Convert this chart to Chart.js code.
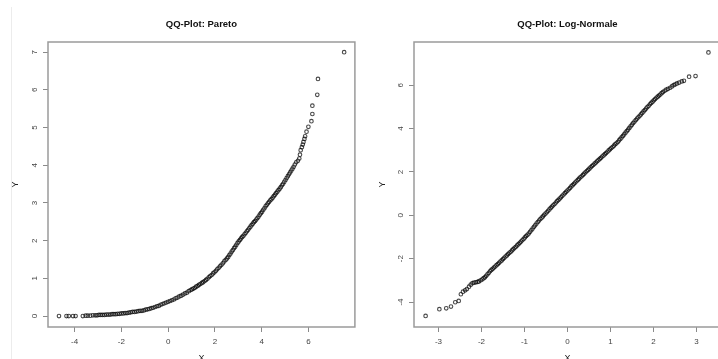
<!DOCTYPE html>
<html>
<head>
<meta charset="utf-8">
<script src="https://cdn.jsdelivr.net/npm/chart.js@4/dist/chart.umd.min.js"></script>
<style>
  body { margin: 0; background: #fff; }
  #page { position: relative; width: 718px; height: 359px; overflow: hidden; background: #fff; }
  .pane { position: absolute; top: 0; }
  #edge { position: absolute; left: 11px; top: 7px; width: 1px; height: 352px; background: #ececec; }
</style>
</head>
<body>
<div id="page">
  <div id="edge"></div>
  <canvas id="qq-pareto" class="pane" style="left:0" width="360" height="366"></canvas>
  <canvas id="qq-lnorm" class="pane" style="left:360px" width="366" height="366"></canvas>
</div>
<script>
// theoretical quantiles (x) vs sample quantiles (y)
const paretoX = [
  -4.67,-4.35,-4.25,-4.07,-3.96,-3.65,-3.53,-3.44,-3.33,-3.22,
  -3.12,-3.04,-2.96,-2.88,-2.80,-2.72,-2.64,-2.56,-2.48,-2.40,
  -2.32,-2.24,-2.16,-2.08,-2.00,-1.92,-1.84,-1.76,-1.68,-1.60,
  -1.52,-1.44,-1.36,-1.28,-1.20,-1.12,-1.04,-0.96,-0.88,-0.80,
  -0.72,-0.64,-0.56,-0.48,-0.40,-0.32,-0.24,-0.16,-0.08,0.00,
  0.08,0.16,0.24,0.32,0.40,0.48,0.56,0.64,0.72,0.80,
  0.88,0.96,
  1.02,1.08,1.14,1.20,1.26,1.32,1.38,1.44,1.50,1.56,
  1.62,1.68,1.74,1.80,1.86,1.92,1.98,2.04,2.10,2.16,
  2.22,2.28,2.34,2.40,2.46,
  2.52,2.57,2.62,2.67,2.72,2.77,2.82,2.87,2.92,2.97,
  3.02,3.07,3.12,3.17,3.22,3.27,3.32,3.37,3.42,3.47,
  3.52,3.57,3.62,3.67,3.72,3.77,3.82,3.87,3.92,3.97,
  4.02,4.07,4.12,4.17,4.22,4.27,4.32,4.37,4.42,4.47,
  4.52,4.57,4.62,4.67,4.72,4.77,4.82,4.87,4.92,4.97,
  5.02,5.07,5.12,5.17,5.22,5.27,5.32,5.37,
  5.42,5.48,5.55,5.61,5.64,5.67,5.72,5.76,5.79,5.83,
  5.86,5.92,6.00,6.13,6.17,6.17,6.38,6.41,7.53
];
const paretoY = [
  0.00,0.00,0.00,0.00,0.00,0.00,0.01,0.01,0.01,0.02,
  0.02,0.02,0.03,0.03,0.03,0.03,0.04,0.04,0.04,0.05,
  0.05,0.05,0.06,0.06,0.07,0.07,0.08,0.08,0.09,0.10,
  0.11,0.11,0.12,0.13,0.14,0.14,0.15,0.17,0.18,0.19,
  0.21,0.22,0.24,0.26,0.27,0.30,0.32,0.34,0.36,0.38,
  0.40,0.42,0.44,0.47,0.49,0.52,0.54,0.57,0.60,0.62,
  0.66,0.69,
  0.71,0.73,0.75,0.78,0.80,0.83,0.85,0.88,0.90,0.93,
  0.96,0.99,1.03,1.06,1.09,1.13,1.16,1.20,1.24,1.28,
  1.32,1.36,1.40,1.45,1.49,
  1.53,1.57,1.62,1.66,1.71,1.75,1.80,1.84,1.89,1.94,
  1.98,2.02,2.06,2.10,2.13,2.17,2.21,2.25,2.29,2.33,
  2.37,2.41,2.45,2.49,2.52,2.56,2.60,2.64,2.69,2.73,
  2.77,2.82,2.86,2.91,2.95,2.99,3.03,3.07,3.10,3.14,
  3.18,3.22,3.26,3.30,3.34,3.38,3.42,3.47,3.51,3.56,
  3.61,3.66,3.71,3.76,3.81,3.86,3.91,3.96,
  4.02,4.08,4.12,4.18,4.28,4.40,4.48,4.55,4.62,4.70,
  4.77,4.89,5.02,5.17,5.36,5.58,5.87,6.29,7.00
];

const lnormX = [
  -3.30,-2.98,-2.82,-2.71,-2.61,-2.53,-2.48,-2.43,-2.38,-2.34,
  -2.29,-2.25,-2.21,-2.17,-2.13,-2.09,-2.06,-2.02,-1.98,-1.95,
  -1.92,-1.89,-1.86,-1.83,-1.80,-1.77,-1.74,-1.71,-1.68,-1.65,
  -1.62,-1.59,-1.56,-1.53,-1.50,-1.47,-1.44,-1.41,-1.38,-1.35,
  -1.32,-1.29,-1.26,-1.23,-1.20,-1.17,-1.14,-1.11,-1.08,-1.05,
  -1.02,-0.99,-0.96,-0.93,-0.90,-0.87,-0.84,-0.81,-0.78,-0.75,
  -0.72,-0.69,-0.66,-0.63,-0.60,-0.57,-0.54,-0.51,-0.48,-0.45,
  -0.42,-0.39,-0.36,-0.33,-0.30,-0.27,-0.24,-0.21,-0.18,-0.15,
  -0.12,-0.09,-0.06,-0.03,0.00,0.03,0.06,0.09,0.12,0.15,
  0.18,0.21,0.24,0.27,0.30,0.33,0.36,0.39,0.42,0.45,
  0.48,0.51,0.54,0.57,0.60,0.63,0.66,0.69,0.72,0.75,
  0.78,0.81,0.84,0.87,0.90,0.93,0.96,0.99,1.02,1.05,
  1.08,1.11,1.14,1.17,1.20,1.23,1.26,1.29,1.32,1.35,
  1.38,1.41,1.44,1.47,1.50,1.53,1.56,1.59,1.62,1.65,
  1.68,1.71,1.74,1.77,1.80,1.83,1.86,1.89,1.92,1.95,
  1.98,2.01,2.04,2.07,2.10,2.13,2.16,2.19,2.22,
  2.26,2.30,2.34,2.39,2.43,2.47,2.51,2.55,2.60,2.66,
  2.71,2.83,2.98,3.28
];
const lnormY = [
  -4.64,-4.33,-4.29,-4.21,-4.01,-3.95,-3.64,-3.52,-3.46,-3.40,
  -3.29,-3.20,-3.13,-3.10,-3.09,-3.07,-3.05,-3.00,-2.95,-2.90,
  -2.86,-2.79,-2.72,-2.65,-2.58,-2.52,-2.47,-2.41,-2.36,-2.30,
  -2.25,-2.19,-2.13,-2.08,-2.02,-1.96,-1.90,-1.85,-1.79,-1.73,
  -1.68,-1.62,-1.56,-1.50,-1.45,-1.39,-1.33,-1.27,-1.21,-1.15,
  -1.09,-1.02,-0.96,-0.90,-0.84,-0.76,-0.69,-0.61,-0.53,-0.46,
  -0.38,-0.31,-0.24,-0.17,-0.11,-0.05,0.02,0.08,0.14,0.21,
  0.27,0.34,0.40,0.46,0.52,0.59,0.65,0.71,0.77,0.83,
  0.90,0.96,1.02,1.08,1.14,1.20,1.26,1.33,1.39,1.45,
  1.51,1.57,1.63,1.69,1.75,1.80,1.86,1.92,1.98,2.04,
  2.09,2.15,2.21,2.27,2.32,2.38,2.43,2.49,2.54,2.60,
  2.65,2.71,2.76,2.82,2.87,2.93,2.99,3.04,3.10,3.15,
  3.21,3.27,3.32,3.38,3.45,3.52,3.59,3.66,3.73,3.81,
  3.88,3.95,4.03,4.10,4.18,4.25,4.32,4.39,4.46,4.52,
  4.59,4.65,4.72,4.79,4.85,4.92,4.99,5.05,5.12,5.18,
  5.24,5.30,5.36,5.42,5.47,5.52,5.57,5.63,5.68,
  5.74,5.79,5.83,5.88,5.94,6.00,6.04,6.08,6.12,6.17,
  6.20,6.39,6.42,7.51
];

const paretoXTicks = [-4, -2, 0, 2, 4, 6];
const paretoYTicks = [0, 1, 2, 3, 4, 5, 6, 7];
const lnormXTicks = [-3, -2, -1, 0, 1, 2, 3];
const lnormYTicks = [-4, -2, 0, 2, 4, 6];

Chart.defaults.font.family = "'Liberation Sans', Arial, sans-serif";
Chart.defaults.color = '#444';

// R-style box around the plot region
const boxPlugin = {
  id: 'plotBox',
  afterDraw(chart) {
    const { ctx, chartArea: a } = chart;
    ctx.save();
    ctx.strokeStyle = '#9a9a9a';
    ctx.lineWidth = 1.5;
    ctx.strokeRect(a.left, a.top, a.right - a.left, a.bottom - a.top);
    ctx.restore();
  }
};

const zip = (xs, ys) => xs.map((x, i) => ({ x, y: ys[i] }));

function qqChart(id, cfg) {
  const tickGrid = { display: true, drawOnChartArea: false, drawTicks: true, tickLength: 5, color: '#8a8a8a', lineWidth: 1 };
  return new Chart(document.getElementById(id), {
    type: 'scatter',
    data: {
      datasets: [{
        data: zip(cfg.xs, cfg.ys),
        pointStyle: 'circle',
        pointRadius: 1.8,
        pointBorderWidth: 1.1,
        // translucent rings: overlap in the dense middle turns solid
        pointBorderColor: 'rgba(0,0,0,0.72)',
        pointBackgroundColor: 'rgba(0,0,0,0)'
      }]
    },
    options: {
      responsive: false,
      animation: false,
      events: [],
      layout: { padding: { left: 0, right: cfg.padRight, top: 0, bottom: 0 } },
      plugins: {
        legend: { display: false },
        tooltip: { enabled: false },
        title: {
          display: true,
          text: cfg.title,
          fullSize: false,
          color: '#111',
          font: { size: 9.5, weight: 'bold' },
          padding: { top: 19, bottom: 11.6 }
        }
      },
      scales: {
        x: {
          type: 'linear',
          min: cfg.xMin, max: cfg.xMax,
          afterBuildTicks: s => { s.ticks = cfg.xTicks.map(v => ({ value: v })); },
          afterFit: s => { s.height = 39; },
          grid: tickGrid,
          border: { display: false },
          ticks: { padding: 5, font: { size: 8 } },
          title: { display: true, text: 'X', color: '#222', font: { size: 9 }, padding: { top: 0, bottom: 2 } }
        },
        y: {
          type: 'linear',
          min: cfg.yMin, max: cfg.yMax,
          afterBuildTicks: s => { s.ticks = cfg.yTicks.map(v => ({ value: v })); },
          afterFit: s => { s.width = cfg.yWidth; },
          grid: tickGrid,
          border: { display: false },
          ticks: { padding: cfg.yPad, minRotation: 90, maxRotation: 90, crossAlign: 'center', font: { size: 8 } },
          title: { display: true, text: 'Y', color: '#222', font: { size: 9 }, padding: { top: cfg.yTitlePad, bottom: 0 } }
        }
      }
    },
    plugins: [boxPlugin]
  });
}

qqChart('qq-pareto', {
  title: 'QQ-Plot: Pareto',
  xs: paretoX, ys: paretoY,
  xMin: -5.14, xMax: 7.99, yMin: -0.29, yMax: 7.27,
  xTicks: paretoXTicks, yTicks: paretoYTicks,
  yWidth: 48, yPad: 6, yTitlePad: 10, padRight: 2
});

qqChart('qq-lnorm', {
  title: 'QQ-Plot: Log-Normale',
  xs: lnormX, ys: lnormY,
  xMin: -3.57, xMax: 3.57, yMin: -5.15, yMax: 7.99,
  xTicks: lnormXTicks, yTicks: lnormYTicks,
  yWidth: 54, yPad: 5, yTitlePad: 17.6, padRight: 1
});
</script>
</body>
</html>
